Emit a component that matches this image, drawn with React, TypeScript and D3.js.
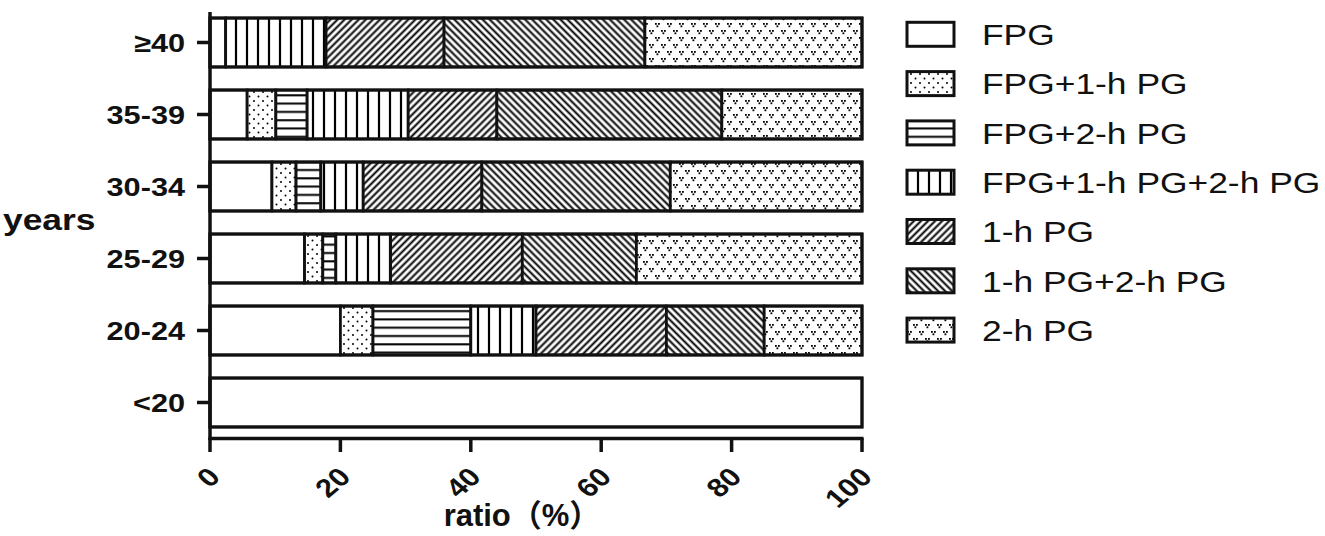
import React, { useEffect, useRef } from 'react';
import * as d3 from 'd3';

const ageGroups = ['≥40', '35-39', '30-34', '25-29', '20-24', '<20'];
const seriesNames = ['FPG', 'FPG+1-h PG', 'FPG+2-h PG', 'FPG+1-h PG+2-h PG', '1-h PG', '1-h PG+2-h PG', '2-h PG'];
const fpg = [2.4, 5.7, 9.5, 14.5, 20, 100];
const fpg1h = [0, 4.4, 3.7, 2.8, 5, 0];
const fpg2h = [0, 4.8, 3.8, 2.0, 15, 0];
const fpg1h2h = [15.4, 15.5, 6.5, 8.4, 10, 0];
const pg1h = [18.1, 13.6, 18.2, 20.2, 20, 0];
const pg1h2h = [30.8, 34.5, 28.9, 17.5, 15, 0];
const pg2h = [33.3, 21.5, 29.4, 34.6, 15, 0];
const xTicks = [0, 20, 40, 60, 80, 100];

const W = 1325;
const H = 536;
const SX = 1.18; // the picture is stretched sideways
const FONT = '"Liberation Sans", Arial, "Noto Sans CJK SC", sans-serif';

const fills = ['#fff', 'url(#p-dots)', 'url(#p-hline)', 'url(#p-vline)', 'url(#p-fwd)', 'url(#p-back)', 'url(#p-vdots)'];

const App = () => {
  const svgRef = useRef<SVGSVGElement | null>(null);

  useEffect(() => {
    const svg = d3.select(svgRef.current);
    svg.selectAll('*').remove();

    // patterns
    const defs = svg.append('defs');
    const dots = defs.append('pattern').attr('id', 'p-dots').attr('patternUnits', 'userSpaceOnUse').attr('width', 9).attr('height', 9);
    dots.append('rect').attr('width', 9).attr('height', 9).attr('fill', '#fff');
    dots.append('circle').attr('cx', 2).attr('cy', 2).attr('r', 1).attr('fill', '#000');
    dots.append('circle').attr('cx', 6.5).attr('cy', 6.5).attr('r', 1).attr('fill', '#000');

    const hl = defs.append('pattern').attr('id', 'p-hline').attr('patternUnits', 'userSpaceOnUse').attr('width', 10).attr('height', 8.3);
    hl.append('rect').attr('width', 10).attr('height', 8.3).attr('fill', '#fff');
    hl.append('line').attr('x1', 0).attr('x2', 10).attr('y1', 4).attr('y2', 4).attr('stroke', '#000').attr('stroke-width', 2);

    const vl = defs.append('pattern').attr('id', 'p-vline').attr('patternUnits', 'userSpaceOnUse').attr('width', 11).attr('height', 10);
    vl.append('rect').attr('width', 11).attr('height', 10).attr('fill', '#fff');
    vl.append('line').attr('x1', 5).attr('x2', 5).attr('y1', 0).attr('y2', 10).attr('stroke', '#000').attr('stroke-width', 2.2);

    const diag = (id: string, angle: number) => {
      const p = defs.append('pattern').attr('id', id).attr('patternUnits', 'userSpaceOnUse')
        .attr('width', 5).attr('height', 5).attr('patternTransform', `rotate(${angle})`);
      p.append('rect').attr('width', 5).attr('height', 5).attr('fill', '#fff');
      p.append('line').attr('x1', 2.5).attr('x2', 2.5).attr('y1', 0).attr('y2', 5).attr('stroke', '#000').attr('stroke-width', 2);
    };
    diag('p-fwd', 45);
    diag('p-back', -45);

    const vd = defs.append('pattern').attr('id', 'p-vdots').attr('patternUnits', 'userSpaceOnUse').attr('width', 12).attr('height', 14);
    vd.append('rect').attr('width', 12).attr('height', 14).attr('fill', '#fff');
    [[1, 2], [7, 9]].forEach(([x, y]) => {
      vd.append('rect').attr('x', x).attr('y', y).attr('width', 1.8).attr('height', 1.8).attr('fill', '#000');
      vd.append('rect').attr('x', x + 3).attr('y', y).attr('width', 1.8).attr('height', 1.8).attr('fill', '#000');
      vd.append('rect').attr('x', x + 1.5).attr('y', y + 2.4).attr('width', 1.8).attr('height', 1.8).attr('fill', '#000');
    });

    const series = [fpg, fpg1h, fpg2h, fpg1h2h, pg1h, pg1h2h, pg2h];
    const rows = ageGroups.map((g, i) => {
      const row: Record<string, number | string> = { group: g };
      seriesNames.forEach((s, j) => (row[s] = series[j][i]));
      return row;
    });
    const stacked = d3.stack<any>().keys(seriesNames)(rows);

    const x = d3.scaleLinear().domain([0, 100]).range([210, 862]);
    const y = d3.scaleBand().domain(ageGroups).range([6.5, 438.5]).paddingInner(0.32).paddingOuter(0.16);

    // bars
    stacked.forEach((layer, j) => {
      svg.append('g')
        .selectAll('rect')
        .data(layer.filter((d) => d[1] - d[0] > 0))
        .enter()
        .append('rect')
        .attr('x', (d) => x(d[0]))
        .attr('y', (d) => y(d.data.group as string)!)
        .attr('width', (d) => x(d[1]) - x(d[0]))
        .attr('height', y.bandwidth())
        .attr('fill', fills[j])
        .attr('stroke', '#111')
        .attr('stroke-width', 2.8);
    });
    svg.append('g')
      .selectAll('rect')
      .data(ageGroups)
      .enter()
      .append('rect')
      .attr('x', x(0))
      .attr('y', (d) => y(d)!)
      .attr('width', x(100) - x(0))
      .attr('height', y.bandwidth())
      .attr('fill', 'none')
      .attr('stroke', '#111')
      .attr('stroke-width', 3);

    // axes
    const axisColor = '#111';
    svg.append('line').attr('x1', 210).attr('x2', 210).attr('y1', 12).attr('y2', 440)
      .attr('stroke', axisColor).attr('stroke-width', 3.5);
    svg.append('line').attr('x1', 208.5).attr('x2', 863.5).attr('y1', 438.5).attr('y2', 438.5)
      .attr('stroke', axisColor).attr('stroke-width', 3.5);

    xTicks.forEach((t) => {
      svg.append('line').attr('x1', x(t)).attr('x2', x(t)).attr('y1', 438).attr('y2', 452)
        .attr('stroke', axisColor).attr('stroke-width', 3.5);
      svg.append('text')
        .attr('transform', `translate(${x(t) + 4},${472}) scale(${SX},1) rotate(-45)`)
        .attr('text-anchor', 'end')
        .attr('dy', '0.36em')
        .attr('font-family', FONT)
        .attr('font-weight', 'bold')
        .attr('font-size', 26)
        .attr('fill', '#111')
        .text(t);
    });

    ageGroups.forEach((g) => {
      const cy = y(g)! + y.bandwidth() / 2;
      svg.append('line').attr('x1', 197).attr('x2', 210).attr('y1', cy).attr('y2', cy)
        .attr('stroke', axisColor).attr('stroke-width', 3.5);
      svg.append('text')
        .attr('transform', `translate(185,${cy}) scale(${SX},1)`)
        .attr('text-anchor', 'end')
        .attr('dy', '0.36em')
        .attr('font-family', FONT)
        .attr('font-weight', 'bold')
        .attr('font-size', 26)
        .attr('fill', '#111')
        .text(g);
    });

    svg.append('text')
      .attr('transform', `translate(3,230) scale(${SX},1)`)
      .attr('font-family', FONT)
      .attr('font-weight', 'bold')
      .attr('font-size', 30)
      .attr('fill', '#111')
      .text('years');

    svg.append('text')
      .attr('transform', 'translate(522,526)')
      .attr('text-anchor', 'middle')
      .attr('font-family', FONT)
      .attr('font-weight', 'bold')
      .attr('font-size', 31)
      .attr('fill', '#111')
      .text('ratio（%）');

    // legend
    const legend = svg.append('g');
    seriesNames.forEach((s, j) => {
      const cy = 34.3 + j * 49.3;
      legend.append('rect').attr('x', 907).attr('y', cy - 12).attr('width', 47).attr('height', 24)
        .attr('fill', fills[j]).attr('stroke', '#111').attr('stroke-width', 3);
      legend.append('text')
        .attr('transform', `translate(982,${cy + 10.7}) scale(${SX},1)`)
        .attr('font-family', FONT)
        .attr('font-size', 30)
        .attr('fill', '#111')
        .text(s);
    });
  }, []);

  return (
    <svg
      ref={svgRef}
      width={W}
      height={H}
      style={{ position: 'absolute', left: 0, top: 0, background: '#fff' }}
    />
  );
};

export default App;
